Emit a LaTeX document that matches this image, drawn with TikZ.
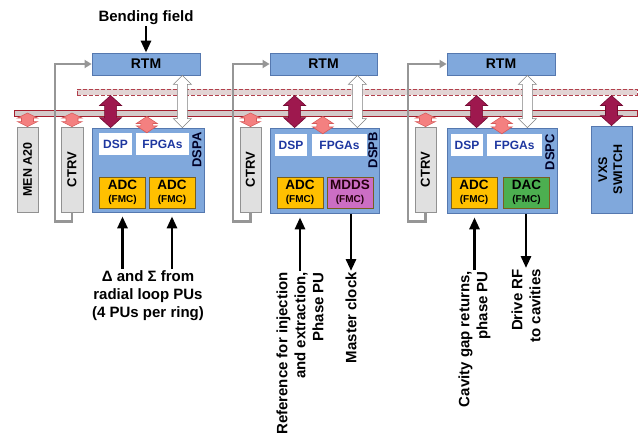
\documentclass[tikz,border=0pt]{standalone}
\usepackage{fontspec}
\setmainfont{Liberation Sans}
\usetikzlibrary{arrows.meta,calc,positioning}

\definecolor{boxblue}{RGB}{128,168,220}
\definecolor{boxedge}{RGB}{85,120,175}
\definecolor{dspblue}{RGB}{30,55,160}
\definecolor{fmcorange}{RGB}{255,192,0}
\definecolor{fmcedge}{RGB}{120,95,30}
\definecolor{mddspink}{RGB}{204,110,196}
\definecolor{dacgreen}{RGB}{76,175,80}
\definecolor{greyfill}{RGB}{224,224,224}
\definecolor{greyedge}{RGB}{145,145,145}
\definecolor{ctrlgrey}{RGB}{150,150,150}
\definecolor{busred}{RGB}{165,30,45}
\definecolor{busfill}{RGB}{212,202,202}
\definecolor{upbusfill}{RGB}{226,212,212}
\definecolor{maroon}{RGB}{158,24,78}
\definecolor{maroonedge}{RGB}{115,10,50}
\definecolor{salmon}{RGB}{244,128,128}
\definecolor{salmonedge}{RGB}{215,90,90}

% block arrow with two heads: style, head length, head half width, shaft half width, from, to
\newcommand\fatarrow[6]{%
  \draw[#1] let \p1=#5, \p2=#6 in
    (\x2,\y1) -- (\x2-#3,\y1-#2) -- (\x2-#4,\y1-#2) -- (\x2-#4,\y2+#2)
    -- (\x2-#3,\y2+#2) -- (\x2,\y2) -- (\x2+#3,\y2+#2) -- (\x2+#4,\y2+#2)
    -- (\x2+#4,\y1-#2) -- (\x2+#3,\y1-#2) -- cycle;}

\begin{document}
\begin{tikzpicture}[x=1pt,y=-1pt,
    bluebox/.style={draw=boxedge, fill=boxblue, line width=0.8pt, inner sep=0pt},
    rtmbox/.style={bluebox, minimum height=22pt, font=\fontsize{14}{16}\selectfont\bfseries},
    whitebox/.style={fill=white, inner sep=0pt, minimum height=22pt, text=dspblue,
      font=\fontsize{12}{14}\selectfont\bfseries},
    fmcbox/.style={draw=fmcedge, line width=0.6pt, inner sep=0pt, align=center,
      minimum width=46pt, minimum height=31pt, font=\fontsize{13.5}{13}\selectfont\bfseries},
    greybox/.style={draw=greyedge, fill=greyfill, line width=0.8pt, inner sep=0pt,
      minimum width=21pt, minimum height=85pt, font=\fontsize{13}{15}\selectfont\bfseries},
    busbar/.style={draw=busred, fill=busfill, line width=1pt, inner sep=0pt, minimum height=6pt},
    ctrlline/.style={draw=ctrlgrey, line width=2.5pt, -{Triangle[length=7pt,width=8pt]}},
    sigline/.style={line width=2.8pt, -{Triangle[length=12pt,width=10pt]}},
    sigtext/.style={font=\fontsize{15}{18}\selectfont\bfseries, inner sep=1pt},
    maroonarrow/.style={fill=maroon, draw=maroonedge, line width=0.6pt},
    pinkarrow/.style={fill=salmon, draw=salmonedge, line width=0.6pt},
    whitearrow/.style={fill=white, draw=gray, line width=0.6pt}]

  \useasboundingbox (0,0) rectangle (641,439);

  % backplane busses
  \node[busbar, draw=busred!85, dash pattern=on 4pt off 2pt, fill=upbusfill,
    minimum width=560pt] (upbus) at (357,92) {};
  \node[busbar, minimum width=623pt] (lowbus) at (325.5,113) {};

  % rear transition modules
  \node[rtmbox, minimum width=108pt] (rtmA) at (146,64) {RTM};
  \node[rtmbox, minimum width=107pt] (rtmB) at (323.5,64) {RTM};
  \node[rtmbox, minimum width=108pt] (rtmC) at (501,64) {RTM};

  \node[sigtext] (bend) at (146,18) {Bending field};
  \draw[sigline] (bend.south) -- (rtmA.north);

  % crates
  \node[greybox] (men) at (27.5,169.5) {\rotatebox{90}{\fontsize{12.5}{14}\selectfont MEN A20}};
  \node[greybox, minimum width=22pt] (ctrvA) at (72,169.5) {\rotatebox{90}{CTRV}};
  \node[greybox] (ctrvB) at (250.5,169.5) {\rotatebox{90}{CTRV}};
  \node[greybox] (ctrvC) at (425.5,169.5) {\rotatebox{90}{CTRV}};
  \node[bluebox, minimum width=41pt, minimum height=87pt, font=\fontsize{12.5}{15}\selectfont\bfseries]
    (vxs) at (611.5,169.5) {\rotatebox{90}{\begin{tabular}{@{}c@{}}VXS\\SWITCH\end{tabular}}};

  \draw[ctrlline] (ctrvA.south) -- ++(0,9) -- ++(-17,0) |- (rtmA.west);
  \draw[ctrlline] (ctrvB.south) -- ++(0,9) -- ++(-17.5,0) |- (rtmB.west);
  \draw[ctrlline] (ctrvC.south) -- ++(0,9) -- ++(-17.5,0) |- (rtmC.west);

  % DSP boards
  \node[bluebox, minimum width=112pt, minimum height=84pt] (dspA) at (148,170) {};
  \node[bluebox, minimum width=109pt, minimum height=85pt] (dspB) at (324.5,170.5) {};
  \node[bluebox, minimum width=110pt, minimum height=85pt] (dspC) at (502,170.5) {};

  \node[whitebox, minimum width=33pt] (dspchipA) at (115.5,144) {DSP};
  \node[whitebox, minimum width=53pt] (fpgaA) at (162.5,144) {FPGAs};
  \node[whitebox, minimum width=32pt] (dspchipB) at (291,145) {DSP};
  \node[whitebox, minimum width=55pt] (fpgaB) at (339.5,145) {FPGAs};
  \node[whitebox, minimum width=32pt] (dspchipC) at (467,145) {DSP};
  \node[whitebox, minimum width=55pt] (fpgaC) at (514.5,145) {FPGAs};

  \node[rotate=90, font=\fontsize{13}{15}\selectfont\bfseries, text=black!85!blue] at (197,150) {DSPA};
  \node[rotate=90, font=\fontsize{13}{15}\selectfont\bfseries, text=black!85!blue] at (373,150) {DSPB};
  \node[rotate=90, font=\fontsize{13}{15}\selectfont\bfseries, text=black!85!blue] at (550,152) {DSPC};

  \node[fmcbox, fill=fmcorange] (adcA1) at (122.5,192.5) {ADC\\{\fontsize{10}{11}\selectfont(FMC)}};
  \node[fmcbox, fill=fmcorange] (adcA2) at (172,192.5) {ADC\\{\fontsize{10}{11}\selectfont(FMC)}};
  \node[fmcbox, fill=fmcorange] (adcB) at (300,192.5) {ADC\\{\fontsize{10}{11}\selectfont(FMC)}};
  \node[fmcbox, fill=mddspink, text=black!80!purple] (mdds) at (350,192.5) {MDDS\\{\fontsize{10}{11}\selectfont(FMC)}};
  \node[fmcbox, fill=fmcorange] (adcC) at (474,192.5) {ADC\\{\fontsize{10}{11}\selectfont(FMC)}};
  \node[fmcbox, fill=dacgreen] (dac) at (526.5,192.5) {DAC\\{\fontsize{10}{11}\selectfont(FMC)}};

  % bus connections
  \fatarrow{pinkarrow}{5pt}{10pt}{6pt}{(lowbus.center)}{(men.north)}
  \fatarrow{pinkarrow}{5pt}{10pt}{6pt}{(lowbus.center)}{(ctrvA.north)}
  \fatarrow{pinkarrow}{5pt}{10pt}{6pt}{(lowbus.center)}{(ctrvB.north)}
  \fatarrow{pinkarrow}{5pt}{10pt}{6pt}{(lowbus.center)}{(ctrvC.north)}

  \fatarrow{pinkarrow}{7pt}{10.5pt}{6pt}{(lowbus.south)}{([xshift=11pt]fpgaA.north west)}
  \fatarrow{pinkarrow}{7pt}{10.5pt}{6pt}{(lowbus.south)}{([xshift=11pt]fpgaB.north west)}
  \fatarrow{pinkarrow}{7pt}{10.5pt}{6pt}{(lowbus.south)}{([xshift=15pt]fpgaC.north west)}

  \fatarrow{maroonarrow}{10pt}{11pt}{6pt}{(upbus.south)}{([xshift=19pt]dspA.north west)}
  \fatarrow{maroonarrow}{10pt}{11pt}{6pt}{(upbus.south)}{([xshift=25pt]dspB.north west)}
  \fatarrow{maroonarrow}{10pt}{11pt}{6pt}{(upbus.south)}{([xshift=30pt]dspC.north west)}
  \fatarrow{maroonarrow}{10pt}{11pt}{6pt}{(upbus.south)}{(vxs.north)}

  \fatarrow{whitearrow}{9pt}{9pt}{5pt}{(rtmA.south)}{([xshift=-22pt]dspA.north east)}
  \fatarrow{whitearrow}{9pt}{9pt}{5pt}{(rtmB.south)}{([xshift=-22pt]dspB.north east)}
  \fatarrow{whitearrow}{9pt}{9pt}{5pt}{(rtmC.south)}{([xshift=-30pt]dspC.north east)}

  % front panel signals
  \node[sigtext, align=center, anchor=north] (sigma) at (148,269)
    {Δ and Σ from\\radial loop PUs\\(4 PUs per ring)};
  \draw[sigline, shorten >=4pt] (sigma.north -| adcA1.south) -- (dspA.south -| adcA1.south);
  \draw[sigline, shorten >=4pt] (sigma.north -| adcA2.south) -- (dspA.south -| adcA2.south);

  \node[sigtext, rotate=90, anchor=east, align=right] (refinj) at (300,271)
    {Reference for injection\\and extraction,\\Phase PU};
  \node[sigtext, rotate=90, anchor=east] (mclk) at (351,271) {Master clock};
  \draw[sigline, shorten >=4pt] (refinj.east) -- (dspB.south -| refinj.east);
  \draw[sigline, shorten <=1pt] (dspB.south -| mclk.east) -- (mclk.east);

  \node[sigtext, rotate=90, anchor=east, align=right] (cavgap) at (474.5,270)
    {Cavity gap returns,\\phase PU};
  \node[sigtext, rotate=90, anchor=east, align=right] (drive) at (526,268)
    {Drive RF\\to cavities};
  \draw[sigline, shorten >=4pt] (cavgap.east) -- (dspC.south -| cavgap.east);
  \draw[sigline, shorten <=1pt] (dspC.south -| drive.east) -- (drive.east);
\end{tikzpicture}
\end{document}
